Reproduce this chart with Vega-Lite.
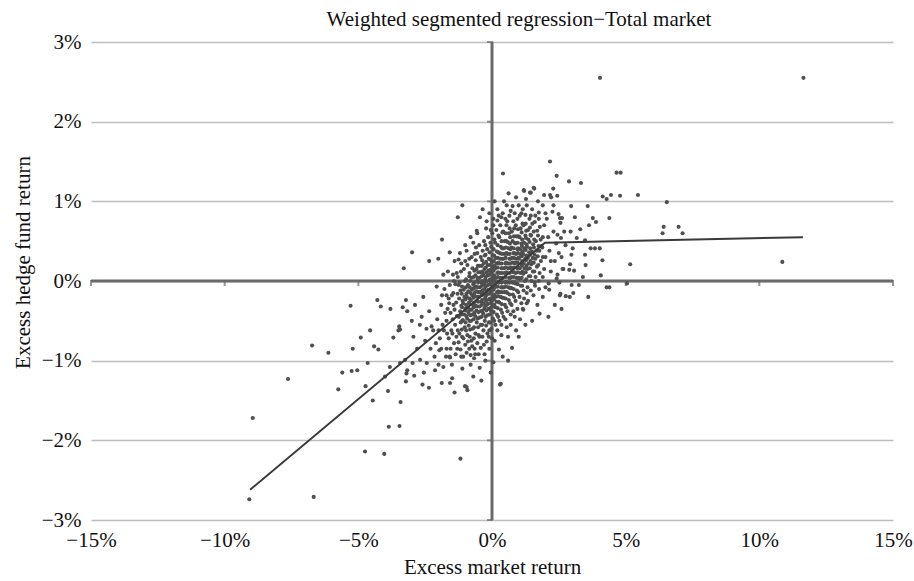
{
"$schema": "https://vega.github.io/schema/vega-lite/v6.json",
"width": 802, "height": 478,
"autosize": {"type": "none"},
"padding": {"left": 91, "top": 42, "right": 21, "bottom": 61},
"background": "white",
"title": {"text": "Weighted segmented regression\u2212Total market", "font": "Liberation Serif", "fontSize": 21, "fontWeight": "normal", "color": "#111", "anchor": "middle", "frame": "group", "dx": 27, "offset": 1},
"config": {
  "view": {"stroke": null},
  "axis": {"labelFont": "Liberation Serif", "titleFont": "Liberation Serif", "labelFontSize": 21, "titleFontSize": 21, "titleFontWeight": "normal", "labelColor": "#111", "titleColor": "#111", "domain": false, "ticks": false, "labelFlush": false, "labelOverlap": false}
},
"datasets": {
  "pts": [
    {"x":4.04,"y":2.55},{"x":11.65,"y":2.55},{"x":2.17,"y":1.50},{"x":0.41,"y":1.35},{"x":4.66,"y":1.36},{"x":4.81,"y":1.36},{"x":2.42,"y":1.32},{"x":2.88,"y":1.25},{"x":3.33,"y":1.23},{"x":2.29,"y":1.16},{"x":1.19,"y":1.14},{"x":1.56,"y":1.17},{"x":1.45,"y":1.11},{"x":2.17,"y":1.08},{"x":2.44,"y":1.07},{"x":4.14,"y":1.06},{"x":4.29,"y":1.03},{"x":4.45,"y":1.08},{"x":4.79,"y":1.07},{"x":5.46,"y":1.08},{"x":6.54,"y":0.99},{"x":6.42,"y":0.68},{"x":6.38,"y":0.60},{"x":6.98,"y":0.68},{"x":7.13,"y":0.60},{"x":10.86,"y":0.24},{"x":5.17,"y":0.21},{"x":2.96,"y":0.94},{"x":3.58,"y":0.94},{"x":3.77,"y":0.79},{"x":4.39,"y":0.79},{"x":3.63,"y":0.70},{"x":3.89,"y":0.74},{"x":3.48,"y":0.51},{"x":3.17,"y":0.54},{"x":3.69,"y":0.41},{"x":3.85,"y":0.41},{"x":4.03,"y":0.41},{"x":4.13,"y":0.26},{"x":3.48,"y":0.33},{"x":4.07,"y":0.07},{"x":4.29,"y":-0.08},{"x":4.39,"y":-0.08},{"x":5.05,"y":-0.03},{"x":3.40,"y":0.05},{"x":3.25,"y":-0.05},{"x":2.98,"y":-0.05},{"x":3.07,"y":0.13},{"x":2.92,"y":0.21},{"x":2.89,"y":0.14},{"x":2.91,"y":-0.20},{"x":2.52,"y":-0.02},{"x":2.67,"y":0.15},{"x":3.02,"y":0.41},{"x":2.97,"y":0.33},{"x":2.58,"y":0.54},{"x":2.94,"y":0.62},{"x":2.62,"y":0.79},{"x":2.56,"y":0.73},{"x":2.49,"y":0.84},{"x":1.20,"y":1.13},{"x":1.42,"y":1.11},{"x":1.58,"y":1.16},{"x":1.27,"y":1.03},{"x":0.45,"y":1.0},{"x":0.77,"y":0.94},{"x":2.21,"y":1.05},{"x":2.26,"y":0.87},{"x":2.54,"y":0.79},
    {"x":1.9,"y":0.95},{"x":2.05,"y":0.78},{"x":1.75,"y":0.86},{"x":2.3,"y":0.62},{"x":2.1,"y":0.55},{"x":2.4,"y":0.47},{"x":1.95,"y":0.70},{"x":2.15,"y":0.38},{"x":2.35,"y":0.25},{"x":2.6,"y":0.30},{"x":2.2,"y":0.12},{"x":2.45,"y":0.08},{"x":2.75,"y":0.45},{"x":2.7,"y":0.62},{"x":1.85,"y":0.44},{"x":2.0,"y":0.30},{"x":2.12,"y":-0.03},{"x":1.61,"y":-0.06},{"x":1.76,"y":-0.10},{"x":2.14,"y":-0.11},{"x":2.54,"y":-0.18},{"x":1.20,"y":-0.22},{"x":3.04,"y":-0.15},{"x":2.76,"y":-0.19},{"x":2.11,"y":-0.45},{"x":1.78,"y":-0.41},{"x":1.30,"y":-0.28},{"x":0.75,"y":-0.84},{"x":1.17,"y":-0.36},{"x":0.33,"y":-1.29},{"x":0.26,"y":-0.86},{"x":2.42,"y":0.03},{"x":2.56,"y":-0.16},{"x":2.64,"y":0.15},{"x":1.5,"y":-0.5},{"x":0.9,"y":-0.62},{"x":1.05,"y":-0.48},{"x":0.6,"y":-0.7},
    {"x":-1.11,"y":0.95},{"x":-1.28,"y":0.80},{"x":-0.45,"y":0.80},{"x":-1.87,"y":0.52},{"x":-2.99,"y":0.36},{"x":-3.30,"y":0.16},{"x":-2.35,"y":0.25},{"x":-2.01,"y":0.28},{"x":-1.58,"y":0.36},{"x":-1.25,"y":0.27},{"x":-1.82,"y":0.08},{"x":-0.57,"y":0.63},{"x":-0.22,"y":0.66},{"x":-0.8,"y":0.55},{"x":-0.35,"y":0.9},{"x":-1.0,"y":0.45},{"x":-0.6,"y":0.42},{"x":0.1,"y":1.0},{"x":-0.1,"y":0.85},{"x":0.25,"y":0.82},
    {"x":-5.29,"y":-0.31},{"x":-4.29,"y":-0.24},{"x":-4.16,"y":-0.32},{"x":-6.73,"y":-0.81},{"x":-6.12,"y":-0.90},{"x":-7.63,"y":-1.23},{"x":-8.95,"y":-1.72},{"x":-5.75,"y":-1.36},{"x":-4.73,"y":-1.32},{"x":-4.46,"y":-1.50},{"x":-3.89,"y":-1.38},{"x":-3.42,"y":-1.52},{"x":-3.86,"y":-1.83},{"x":-3.46,"y":-1.82},{"x":-4.75,"y":-2.14},{"x":-4.03,"y":-2.17},{"x":-1.18,"y":-2.23},{"x":-9.08,"y":-2.74},{"x":-6.67,"y":-2.71},{"x":-2.36,"y":-1.34},{"x":-1.88,"y":-1.28},{"x":-1.57,"y":-1.28},{"x":-1.40,"y":-1.40},{"x":-1.01,"y":-1.32},{"x":-0.92,"y":-1.37},{"x":0.30,"y":-1.30},{"x":-3.22,"y":-1.26},{"x":-5.25,"y":-1.13},{"x":-5.04,"y":-1.12},{"x":-4.91,"y":-0.71},{"x":-5.21,"y":-0.85},{"x":-4.56,"y":-0.62},{"x":-4.41,"y":-0.82},{"x":-4.25,"y":-0.86},{"x":-4.65,"y":-1.03},{"x":-3.69,"y":-0.71},{"x":-3.47,"y":-0.57},{"x":-3.50,"y":-0.62},{"x":-3.34,"y":-0.33},{"x":-3.20,"y":-1.16},{"x":-2.91,"y":-1.19},{"x":-3.82,"y":-1.08},{"x":-3.44,"y":-1.03},{"x":-0.46,"y":-1.09},{"x":-0.67,"y":-0.97},{"x":-0.95,"y":-1.33},{"x":-1.11,"y":-1.10},{"x":-1.57,"y":-0.96},{"x":-1.49,"y":-1.22},{"x":-1.82,"y":-1.08},{"x":-1.97,"y":-0.87},{"x":-2.13,"y":-1.12},{"x":-2.44,"y":-1.03},{"x":-2.69,"y":-0.99},{"x":-2.97,"y":-1.03},{"x":-3.17,"y":-1.12},{"x":-3.25,"y":-0.99},{"x":-2.94,"y":-0.70},{"x":-3.44,"y":-0.61},{"x":-3.17,"y":-0.38},{"x":-2.88,"y":-0.30},{"x":-3.22,"y":-0.24},{"x":-2.63,"y":-0.45},{"x":-2.35,"y":-0.38},{"x":-2.26,"y":-0.57},{"x":-2.57,"y":-0.20},{"x":-2.07,"y":-0.07},{"x":-1.87,"y":-0.18},
    {"x":-2.2,"y":-0.62},{"x":-2.05,"y":-0.48},{"x":-1.95,"y":-0.72},{"x":-1.85,"y":-0.55},{"x":-1.75,"y":-0.40},{"x":-1.68,"y":-0.66},{"x":-1.9,"y":-0.30},{"x":-2.3,"y":-0.85},{"x":-2.15,"y":-0.95},{"x":-1.7,"y":-0.85},{"x":-1.62,"y":-0.22},{"x":-1.78,"y":-0.10},{"x":-1.65,"y":0.12},{"x":-1.72,"y":-0.95},{"x":-2.5,"y":-0.75},{"x":-2.45,"y":-0.6},{"x":-2.7,"y":-0.55},{"x":-2.8,"y":-0.85},{"x":-2.55,"y":-1.15},{"x":-2.0,"y":-1.05},{"x":-1.3,"y":-0.85},{"x":-1.15,"y":-0.95},{"x":-0.85,"y":-0.85},{"x":-0.65,"y":-0.85},{"x":-0.5,"y":-0.92},{"x":-0.3,"y":-0.8},{"x":-0.1,"y":-0.85},{"x":0.1,"y":-0.75},{"x":-0.25,"y":-1.0},{"x":0.05,"y":-1.02},{"x":0.35,"y":-0.68},{"x":0.55,"y":-0.58},{"x":-1.4,"y":0.25},{"x":-1.2,"y":0.35},{"x":-0.95,"y":0.38},{"x":-0.7,"y":0.48},{"x":-0.55,"y":0.6},{"x":-0.3,"y":0.5},{"x":-0.2,"y":0.75},{"x":0.05,"y":0.78},{"x":0.2,"y":0.9},{"x":0.4,"y":0.85},{"x":0.55,"y":0.95},{"x":0.7,"y":0.88},{"x":0.85,"y":0.85},{"x":1.0,"y":0.95},{"x":0.62,"y":1.1},{"x":0.9,"y":1.05},{"x":1.15,"y":0.9},{"x":1.3,"y":0.95},{"x":1.5,"y":0.9},{"x":1.62,"y":0.82},{"x":1.72,"y":1.0},{"x":1.95,"y":1.08},{"x":1.15,"y":-0.35},{"x":1.35,"y":-0.25},{"x":1.55,"y":-0.18},{"x":1.7,"y":-0.3},{"x":1.9,"y":-0.2},{"x":0.85,"y":-0.45},{"x":0.7,"y":-0.55},{"x":1.0,"y":-0.7},{"x":0.4,"y":-0.95},{"x":-0.8,"y":-1.05},{"x":-1.5,"y":-1.05},{"x":-2.6,"y":-1.3},{"x":-0.7,"y":-1.2},{"x":-0.4,"y":-1.25},{"x":2.2,"y":0.25},{"x":1.95,"y":0.15},{"x":1.9,"y":0.55},{"x":2.0,"y":0.85},{"x":2.3,"y":0.95},{"x":2.45,"y":0.58},{"x":2.5,"y":0.35},{"x":2.35,"y":-0.3},{"x":2.6,"y":-0.35},{"x":1.25,"y":-0.55},{"x":3.1,"y":0.8},{"x":3.3,"y":0.65},{"x":3.5,"y":0.2},{"x":3.6,"y":-0.2},{"x":0.6,"y":-1.0},{"x":-0.05,"y":-1.15},{"x":-3.8,"y":-0.35},{"x":-3.0,"y":-0.5},{"x":-4.0,"y":-1.2},{"x":-5.6,"y":-1.15},
    {"x":-1.62,"y":-0.72},{"x":-1.55,"y":-0.85},{"x":-1.48,"y":-0.66},{"x":-1.42,"y":-0.78},{"x":-1.36,"y":-0.92},{"x":-1.28,"y":-0.62},{"x":-1.25,"y":-0.77},{"x":-1.18,"y":-0.86},{"x":-1.12,"y":-0.70},{"x":-1.08,"y":-0.95},{"x":-1.0,"y":-0.80},{"x":-0.95,"y":-0.90},{"x":-0.9,"y":-0.76},{"x":-0.83,"y":-0.70},{"x":-0.8,"y":-0.93},{"x":-0.74,"y":-0.82},{"x":-0.68,"y":-0.72},{"x":-0.63,"y":-0.92},{"x":-0.55,"y":-0.78},{"x":-0.5,"y":-0.68},{"x":-0.42,"y":-0.84},{"x":-0.36,"y":-0.70},{"x":-0.28,"y":-0.92},{"x":-0.2,"y":-0.76},{"x":-0.12,"y":-0.70},{"x":-1.7,"y":-0.5},{"x":-1.66,"y":-0.35},{"x":-1.6,"y":-0.28},{"x":-1.7,"y":-0.18},{"x":-1.8,"y":-0.62},{"x":-1.9,"y":-0.85},{"x":-1.58,"y":-0.95},{"x":-2.0,"y":-0.62},{"x":-2.1,"y":-0.78},{"x":-1.45,"y":-0.15},{"x":-1.42,"y":0.0},{"x":-1.28,"y":0.05},{"x":-1.25,"y":-0.05},
    {"x":0.2,"y":0.76},{"x":0.35,"y":0.8},{"x":0.5,"y":0.78},{"x":0.65,"y":0.82},{"x":0.8,"y":0.75},{"x":0.95,"y":0.78},{"x":1.1,"y":0.85},{"x":1.25,"y":0.83},{"x":1.45,"y":0.82},{"x":1.6,"y":0.74},{"x":1.75,"y":0.78},{"x":0.05,"y":0.7},{"x":-0.05,"y":0.64},{"x":-0.25,"y":0.45},{"x":-0.35,"y":0.38},{"x":-0.55,"y":0.35},{"x":-0.65,"y":0.34},{"x":-0.85,"y":0.28},{"x":-1.0,"y":0.25},{"x":-1.15,"y":0.22},
    {"x":1.45,"y":-0.12},{"x":1.6,"y":-0.02},{"x":1.75,"y":0.0},{"x":1.9,"y":0.05},{"x":2.0,"y":-0.08},{"x":1.3,"y":-0.15},{"x":1.1,"y":-0.28},{"x":0.95,"y":-0.35},{"x":0.8,"y":-0.38},{"x":0.7,"y":-0.42},{"x":0.5,"y":-0.48},{"x":0.35,"y":-0.55},{"x":0.2,"y":-0.62},{"x":0.0,"y":-0.72},{"x":-0.1,"y":-0.62},
    {"x":-1.52,"y":-0.62},{"x":-1.47,"y":-0.48},{"x":-1.55,"y":-0.40},{"x":-1.44,"y":-0.30},{"x":-1.5,"y":-0.18},{"x":-1.58,"y":-0.05},{"x":-1.46,"y":0.08},
    {"x":-1.33,"y":-0.70},{"x":-1.38,"y":-0.55},{"x":-1.31,"y":-0.44},{"x":-1.4,"y":-0.36},{"x":-1.34,"y":-0.27},{"x":-1.29,"y":-0.16},{"x":-1.37,"y":-0.04},{"x":-1.32,"y":0.10},
    {"x":-1.22,"y":-0.66},{"x":-1.17,"y":-0.52},{"x":-1.24,"y":-0.45},{"x":-1.19,"y":-0.38},{"x":-1.15,"y":-0.31},{"x":-1.23,"y":-0.22},{"x":-1.18,"y":-0.12},{"x":-1.21,"y":-0.02},{"x":-1.16,"y":0.12},
    {"x":-1.07,"y":-0.72},{"x":-1.02,"y":-0.58},{"x":-1.09,"y":-0.49},{"x":-1.04,"y":-0.42},{"x":-1.0,"y":-0.35},{"x":-1.08,"y":-0.28},{"x":-1.03,"y":-0.20},{"x":-1.06,"y":-0.11},{"x":-1.01,"y":0.0},{"x":-1.05,"y":0.15},
    {"x":-0.92,"y":-0.68},{"x":-0.87,"y":-0.56},{"x":-0.93,"y":-0.47},{"x":-0.88,"y":-0.40},{"x":-0.91,"y":-0.33},{"x":-0.86,"y":-0.27},{"x":-0.94,"y":-0.20},{"x":-0.89,"y":-0.13},{"x":-0.9,"y":-0.05},{"x":-0.85,"y":0.06},{"x":-0.92,"y":0.2},
    {"x":-0.77,"y":-0.75},{"x":-0.72,"y":-0.6},{"x":-0.78,"y":-0.5},{"x":-0.73,"y":-0.42},{"x":-0.76,"y":-0.36},{"x":-0.71,"y":-0.30},{"x":-0.79,"y":-0.24},{"x":-0.74,"y":-0.18},{"x":-0.75,"y":-0.11},{"x":-0.7,"y":-0.04},{"x":-0.77,"y":0.04},{"x":-0.73,"y":0.16},{"x":-0.76,"y":0.3},
    {"x":-0.62,"y":-0.66},{"x":-0.57,"y":-0.52},{"x":-0.63,"y":-0.44},{"x":-0.58,"y":-0.37},{"x":-0.61,"y":-0.31},{"x":-0.56,"y":-0.25},{"x":-0.64,"y":-0.19},{"x":-0.59,"y":-0.13},{"x":-0.6,"y":-0.07},{"x":-0.55,"y":0.0},{"x":-0.62,"y":0.07},{"x":-0.58,"y":0.15},{"x":-0.61,"y":0.26},
    {"x":-0.47,"y":-0.7},{"x":-0.42,"y":-0.55},{"x":-0.48,"y":-0.46},{"x":-0.43,"y":-0.38},{"x":-0.46,"y":-0.32},{"x":-0.41,"y":-0.26},{"x":-0.49,"y":-0.2},{"x":-0.44,"y":-0.14},{"x":-0.45,"y":-0.08},{"x":-0.4,"y":-0.02},{"x":-0.47,"y":0.04},{"x":-0.43,"y":0.11},{"x":-0.46,"y":0.19},{"x":-0.42,"y":0.3},{"x":-0.48,"y":0.45},
    {"x":-0.32,"y":-0.62},{"x":-0.27,"y":-0.5},{"x":-0.33,"y":-0.41},{"x":-0.28,"y":-0.34},{"x":-0.31,"y":-0.28},{"x":-0.26,"y":-0.22},{"x":-0.34,"y":-0.16},{"x":-0.29,"y":-0.1},{"x":-0.3,"y":-0.04},{"x":-0.25,"y":0.02},{"x":-0.32,"y":0.08},{"x":-0.28,"y":0.15},{"x":-0.31,"y":0.22},{"x":-0.27,"y":0.32},
    {"x":-0.17,"y":-0.66},{"x":-0.12,"y":-0.52},{"x":-0.18,"y":-0.43},{"x":-0.13,"y":-0.35},{"x":-0.16,"y":-0.29},{"x":-0.11,"y":-0.23},{"x":-0.19,"y":-0.17},{"x":-0.14,"y":-0.11},{"x":-0.15,"y":-0.05},{"x":-0.1,"y":0.01},{"x":-0.17,"y":0.07},{"x":-0.13,"y":0.13},{"x":-0.16,"y":0.2},{"x":-0.12,"y":0.28},{"x":-0.18,"y":0.4},{"x":-0.14,"y":0.55},
    {"x":-0.02,"y":-0.6},{"x":0.03,"y":-0.47},{"x":-0.03,"y":-0.38},{"x":0.02,"y":-0.31},{"x":-0.01,"y":-0.25},{"x":0.04,"y":-0.19},{"x":-0.04,"y":-0.13},{"x":0.01,"y":-0.07},{"x":0.0,"y":-0.01},{"x":0.05,"y":0.05},{"x":-0.02,"y":0.11},{"x":0.02,"y":0.17},{"x":-0.01,"y":0.24},{"x":0.03,"y":0.32},{"x":-0.03,"y":0.43},{"x":0.01,"y":0.6},
    {"x":0.13,"y":-0.55},{"x":0.18,"y":-0.42},{"x":0.12,"y":-0.33},{"x":0.17,"y":-0.26},{"x":0.14,"y":-0.2},{"x":0.19,"y":-0.14},{"x":0.11,"y":-0.08},{"x":0.16,"y":-0.02},{"x":0.15,"y":0.04},{"x":0.2,"y":0.1},{"x":0.13,"y":0.16},{"x":0.17,"y":0.22},{"x":0.14,"y":0.29},{"x":0.18,"y":0.37},{"x":0.12,"y":0.48},{"x":0.16,"y":0.64},
    {"x":0.28,"y":-0.5},{"x":0.33,"y":-0.36},{"x":0.27,"y":-0.27},{"x":0.32,"y":-0.2},{"x":0.29,"y":-0.14},{"x":0.34,"y":-0.08},{"x":0.26,"y":-0.02},{"x":0.31,"y":0.04},{"x":0.3,"y":0.1},{"x":0.35,"y":0.16},{"x":0.28,"y":0.22},{"x":0.32,"y":0.28},{"x":0.29,"y":0.35},{"x":0.33,"y":0.43},{"x":0.27,"y":0.55},{"x":0.31,"y":0.7},
    {"x":0.43,"y":-0.45},{"x":0.48,"y":-0.3},{"x":0.42,"y":-0.21},{"x":0.47,"y":-0.14},{"x":0.44,"y":-0.08},{"x":0.49,"y":-0.02},{"x":0.41,"y":0.04},{"x":0.46,"y":0.1},{"x":0.45,"y":0.16},{"x":0.5,"y":0.22},{"x":0.43,"y":0.28},{"x":0.47,"y":0.34},{"x":0.44,"y":0.41},{"x":0.48,"y":0.5},{"x":0.42,"y":0.62},
    {"x":0.58,"y":-0.38},{"x":0.63,"y":-0.24},{"x":0.57,"y":-0.15},{"x":0.62,"y":-0.08},{"x":0.59,"y":-0.02},{"x":0.64,"y":0.04},{"x":0.56,"y":0.1},{"x":0.61,"y":0.16},{"x":0.6,"y":0.22},{"x":0.65,"y":0.28},{"x":0.58,"y":0.34},{"x":0.62,"y":0.41},{"x":0.59,"y":0.49},{"x":0.63,"y":0.6},{"x":0.57,"y":0.75},
    {"x":0.73,"y":-0.3},{"x":0.78,"y":-0.17},{"x":0.72,"y":-0.09},{"x":0.77,"y":-0.02},{"x":0.74,"y":0.05},{"x":0.79,"y":0.11},{"x":0.71,"y":0.17},{"x":0.76,"y":0.23},{"x":0.75,"y":0.29},{"x":0.8,"y":0.35},{"x":0.73,"y":0.42},{"x":0.77,"y":0.5},{"x":0.74,"y":0.62},
    {"x":0.88,"y":-0.25},{"x":0.93,"y":-0.12},{"x":0.87,"y":-0.03},{"x":0.92,"y":0.04},{"x":0.89,"y":0.1},{"x":0.94,"y":0.16},{"x":0.86,"y":0.22},{"x":0.91,"y":0.28},{"x":0.9,"y":0.34},{"x":0.95,"y":0.4},{"x":0.88,"y":0.47},{"x":0.92,"y":0.56},{"x":0.89,"y":0.7},
    {"x":1.03,"y":-0.2},{"x":1.08,"y":-0.06},{"x":1.02,"y":0.03},{"x":1.07,"y":0.1},{"x":1.04,"y":0.16},{"x":1.09,"y":0.22},{"x":1.01,"y":0.28},{"x":1.06,"y":0.34},{"x":1.05,"y":0.4},{"x":1.1,"y":0.47},{"x":1.03,"y":0.55},{"x":1.07,"y":0.66},{"x":1.04,"y":0.82},
    {"x":1.18,"y":-0.12},{"x":1.23,"y":0.0},{"x":1.17,"y":0.09},{"x":1.22,"y":0.16},{"x":1.19,"y":0.22},{"x":1.24,"y":0.28},{"x":1.16,"y":0.34},{"x":1.21,"y":0.41},{"x":1.2,"y":0.48},{"x":1.25,"y":0.57},{"x":1.18,"y":0.7},
    {"x":1.33,"y":-0.08},{"x":1.38,"y":0.06},{"x":1.32,"y":0.15},{"x":1.37,"y":0.22},{"x":1.34,"y":0.29},{"x":1.39,"y":0.36},{"x":1.31,"y":0.43},{"x":1.36,"y":0.52},{"x":1.35,"y":0.64},{"x":1.4,"y":0.78},
    {"x":1.48,"y":0.0},{"x":1.53,"y":0.12},{"x":1.47,"y":0.21},{"x":1.52,"y":0.29},{"x":1.49,"y":0.37},{"x":1.54,"y":0.46},{"x":1.46,"y":0.57},{"x":1.51,"y":0.72},
    {"x":1.63,"y":0.05},{"x":1.68,"y":0.18},{"x":1.62,"y":0.28},{"x":1.67,"y":0.38},{"x":1.64,"y":0.5},{"x":1.69,"y":0.63},
    {"x":1.78,"y":0.1},{"x":1.83,"y":0.25},{"x":1.77,"y":0.38},{"x":1.82,"y":0.52},{"x":1.79,"y":0.68},
    {"x":-1.13,"y":-0.61},{"x":-1.11,"y":-0.50},{"x":-1.14,"y":-0.42},{"x":-1.12,"y":-0.33},{"x":-1.10,"y":-0.25},{"x":-1.13,"y":-0.16},{"x":-1.12,"y":-0.07},
    {"x":-0.97,"y":-0.62},{"x":-0.99,"y":-0.52},{"x":-0.96,"y":-0.44},{"x":-0.98,"y":-0.37},{"x":-0.97,"y":-0.30},{"x":-0.99,"y":-0.23},{"x":-0.96,"y":-0.16},{"x":-0.98,"y":-0.08},{"x":-0.97,"y":0.02},
    {"x":-0.82,"y":-0.61},{"x":-0.84,"y":-0.50},{"x":-0.81,"y":-0.43},{"x":-0.83,"y":-0.36},{"x":-0.82,"y":-0.29},{"x":-0.84,"y":-0.22},{"x":-0.81,"y":-0.15},{"x":-0.83,"y":-0.08},{"x":-0.82,"y":0.00},{"x":-0.84,"y":0.10},
    {"x":-0.67,"y":-0.58},{"x":-0.69,"y":-0.48},{"x":-0.66,"y":-0.40},{"x":-0.68,"y":-0.33},{"x":-0.67,"y":-0.27},{"x":-0.69,"y":-0.21},{"x":-0.66,"y":-0.15},{"x":-0.68,"y":-0.09},{"x":-0.67,"y":-0.02},{"x":-0.69,"y":0.05},{"x":-0.66,"y":0.13},
    {"x":-0.52,"y":-0.58},{"x":-0.54,"y":-0.47},{"x":-0.51,"y":-0.39},{"x":-0.53,"y":-0.32},{"x":-0.52,"y":-0.26},{"x":-0.54,"y":-0.20},{"x":-0.51,"y":-0.14},{"x":-0.53,"y":-0.08},{"x":-0.52,"y":-0.02},{"x":-0.54,"y":0.04},{"x":-0.51,"y":0.11},{"x":-0.53,"y":0.19},
    {"x":-0.37,"y":-0.55},{"x":-0.39,"y":-0.45},{"x":-0.36,"y":-0.37},{"x":-0.38,"y":-0.30},{"x":-0.37,"y":-0.24},{"x":-0.39,"y":-0.18},{"x":-0.36,"y":-0.12},{"x":-0.38,"y":-0.06},{"x":-0.37,"y":0.00},{"x":-0.39,"y":0.06},{"x":-0.36,"y":0.12},{"x":-0.38,"y":0.19},{"x":-0.37,"y":0.26},
    {"x":-0.22,"y":-0.56},{"x":-0.24,"y":-0.45},{"x":-0.21,"y":-0.37},{"x":-0.23,"y":-0.31},{"x":-0.22,"y":-0.25},{"x":-0.24,"y":-0.19},{"x":-0.21,"y":-0.13},{"x":-0.23,"y":-0.07},{"x":-0.22,"y":-0.01},{"x":-0.24,"y":0.05},{"x":-0.21,"y":0.11},{"x":-0.23,"y":0.17},{"x":-0.22,"y":0.24},{"x":-0.24,"y":0.33},
    {"x":-0.07,"y":-0.52},{"x":-0.09,"y":-0.42},{"x":-0.06,"y":-0.34},{"x":-0.08,"y":-0.28},{"x":-0.07,"y":-0.22},{"x":-0.09,"y":-0.16},{"x":-0.06,"y":-0.10},{"x":-0.08,"y":-0.04},{"x":-0.07,"y":0.02},{"x":-0.09,"y":0.08},{"x":-0.06,"y":0.14},{"x":-0.08,"y":0.20},{"x":-0.07,"y":0.27},{"x":-0.09,"y":0.36},{"x":-0.06,"y":0.48},
    {"x":0.08,"y":-0.50},{"x":0.06,"y":-0.39},{"x":0.09,"y":-0.30},{"x":0.07,"y":-0.23},{"x":0.08,"y":-0.17},{"x":0.06,"y":-0.11},{"x":0.09,"y":-0.05},{"x":0.07,"y":0.01},{"x":0.08,"y":0.07},{"x":0.06,"y":0.13},{"x":0.09,"y":0.19},{"x":0.07,"y":0.25},{"x":0.08,"y":0.32},{"x":0.06,"y":0.40},{"x":0.09,"y":0.52},
    {"x":0.23,"y":-0.45},{"x":0.21,"y":-0.34},{"x":0.24,"y":-0.26},{"x":0.22,"y":-0.19},{"x":0.23,"y":-0.13},{"x":0.21,"y":-0.07},{"x":0.24,"y":-0.01},{"x":0.22,"y":0.05},{"x":0.23,"y":0.11},{"x":0.21,"y":0.17},{"x":0.24,"y":0.23},{"x":0.22,"y":0.29},{"x":0.23,"y":0.36},{"x":0.21,"y":0.45},{"x":0.24,"y":0.57},
    {"x":0.38,"y":-0.40},{"x":0.36,"y":-0.29},{"x":0.39,"y":-0.21},{"x":0.37,"y":-0.14},{"x":0.38,"y":-0.08},{"x":0.36,"y":-0.02},{"x":0.39,"y":0.04},{"x":0.37,"y":0.10},{"x":0.38,"y":0.16},{"x":0.36,"y":0.22},{"x":0.39,"y":0.28},{"x":0.37,"y":0.34},{"x":0.38,"y":0.41},{"x":0.36,"y":0.50},{"x":0.39,"y":0.61},
    {"x":0.53,"y":-0.33},{"x":0.51,"y":-0.22},{"x":0.54,"y":-0.14},{"x":0.52,"y":-0.07},{"x":0.53,"y":-0.01},{"x":0.51,"y":0.05},{"x":0.54,"y":0.11},{"x":0.52,"y":0.17},{"x":0.53,"y":0.23},{"x":0.51,"y":0.29},{"x":0.54,"y":0.35},{"x":0.52,"y":0.42},{"x":0.53,"y":0.50},{"x":0.51,"y":0.60},{"x":0.54,"y":0.70},
    {"x":0.68,"y":-0.28},{"x":0.66,"y":-0.17},{"x":0.69,"y":-0.09},{"x":0.67,"y":-0.02},{"x":0.68,"y":0.04},{"x":0.66,"y":0.10},{"x":0.69,"y":0.16},{"x":0.67,"y":0.22},{"x":0.68,"y":0.28},{"x":0.66,"y":0.34},{"x":0.69,"y":0.40},{"x":0.67,"y":0.47},{"x":0.68,"y":0.55},{"x":0.66,"y":0.66},
    {"x":0.83,"y":-0.20},{"x":0.81,"y":-0.10},{"x":0.84,"y":-0.02},{"x":0.82,"y":0.05},{"x":0.83,"y":0.11},{"x":0.81,"y":0.17},{"x":0.84,"y":0.23},{"x":0.82,"y":0.29},{"x":0.83,"y":0.35},{"x":0.81,"y":0.41},{"x":0.84,"y":0.48},{"x":0.82,"y":0.56},{"x":0.83,"y":0.66},
    {"x":0.98,"y":-0.14},{"x":0.96,"y":-0.04},{"x":0.99,"y":0.04},{"x":0.97,"y":0.11},{"x":0.98,"y":0.17},{"x":0.96,"y":0.23},{"x":0.99,"y":0.29},{"x":0.97,"y":0.35},{"x":0.98,"y":0.41},{"x":0.96,"y":0.48},{"x":0.99,"y":0.56},{"x":0.97,"y":0.65},
    {"x":1.13,"y":-0.06},{"x":1.11,"y":0.04},{"x":1.14,"y":0.12},{"x":1.12,"y":0.19},{"x":1.13,"y":0.25},{"x":1.11,"y":0.31},{"x":1.14,"y":0.37},{"x":1.12,"y":0.44},{"x":1.13,"y":0.52},{"x":1.11,"y":0.61},{"x":1.14,"y":0.72},
    {"x":1.28,"y":0.02},{"x":1.26,"y":0.11},{"x":1.29,"y":0.19},{"x":1.27,"y":0.26},{"x":1.28,"y":0.32},{"x":1.26,"y":0.39},{"x":1.29,"y":0.46},{"x":1.27,"y":0.54},{"x":1.28,"y":0.63},{"x":1.26,"y":0.72},
    {"x":1.43,"y":0.06},{"x":1.41,"y":0.16},{"x":1.44,"y":0.25},{"x":1.42,"y":0.33},{"x":1.43,"y":0.41},{"x":1.41,"y":0.49},{"x":1.44,"y":0.58},{"x":1.42,"y":0.67},
    {"x":1.58,"y":0.12},{"x":1.56,"y":0.23},{"x":1.59,"y":0.33},{"x":1.57,"y":0.42},{"x":1.58,"y":0.52},{"x":1.56,"y":0.62},
    {"x":1.73,"y":0.20},{"x":1.71,"y":0.31},{"x":1.74,"y":0.44},{"x":1.72,"y":0.57},
    {"x":1.9,"y":0.3},{"x":1.88,"y":0.42}
  ],
  "fit": [{"x":-9.05,"y":-2.62},{"x":1.98,"y":0.48},{"x":11.63,"y":0.55}],
  "xticks": [{"v":-15},{"v":-10},{"v":-5},{"v":5},{"v":10},{"v":15}],
  "yticks": [{"v":-3},{"v":-2},{"v":-1},{"v":1},{"v":2},{"v":3}]
},
"layer": [
  {
    "data": {"values": [{}]},
    "mark": {"type": "rule", "color": "#6a6a6a", "strokeWidth": 3},
    "encoding": {"y": {"datum": 0, "type": "quantitative", "scale": {"domain": [-3, 3], "nice": false, "zero": false},
            "axis": {"values": [-3, -2, -1, 0, 1, 2, 3], "labelExpr": "format(datum.value, 'd') + '%'", "grid": true, "gridColor": "#bdbdbd", "gridWidth": 1.5, "labelPadding": 10, "title": "Excess hedge fund return", "titlePadding": 8, "titleY": 220}}}
  },
  {
    "data": {"values": [{}]},
    "mark": {"type": "rule", "color": "#6a6a6a", "strokeWidth": 3},
    "encoding": {"x": {"datum": 0, "type": "quantitative", "scale": {"domain": [-15, 15], "nice": false, "zero": false},
            "axis": {"values": [-15, -10, -5, 0, 5, 10, 15], "labelExpr": "format(datum.value, 'd') + '%'", "grid": false, "labelPadding": 9, "title": "Excess market return", "titlePadding": 6}}}
  },
  {
    "data": {"name": "xticks"},
    "mark": {"type": "tick", "orient": "vertical", "color": "#6a6a6a", "size": 6, "thickness": 2, "yOffset": 2},
    "encoding": {"x": {"field": "v", "type": "quantitative"}, "y": {"datum": 0}}
  },
  {
    "data": {"name": "yticks"},
    "mark": {"type": "tick", "orient": "horizontal", "color": "#6a6a6a", "size": 6, "thickness": 2, "xOffset": -2},
    "encoding": {"y": {"field": "v", "type": "quantitative"}, "x": {"datum": 0}}
  },
  {
    "data": {"name": "pts"},
    "mark": {"type": "circle", "size": 17, "color": "#4f4f4f", "opacity": 1},
    "encoding": {
      "x": {"field": "x", "type": "quantitative"},
      "y": {"field": "y", "type": "quantitative"}
    }
  },
  {
    "data": {"name": "fit"},
    "mark": {"type": "line", "color": "#3a3a3a", "strokeWidth": 2},
    "encoding": {"x": {"field": "x", "type": "quantitative"}, "y": {"field": "y", "type": "quantitative"}}
  }
]
}
